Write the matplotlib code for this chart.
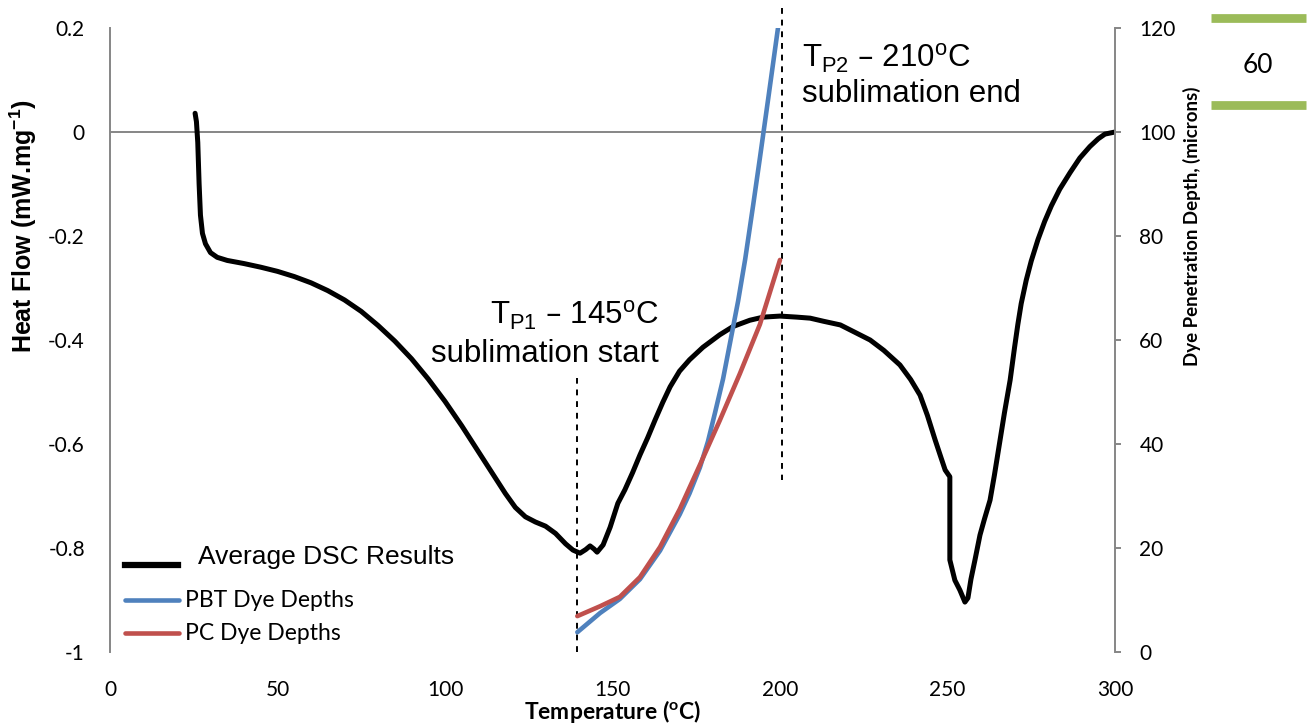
import matplotlib.pyplot as plt
from matplotlib.lines import Line2D

# DSC curve (temperature in C, heat flow in mW/mg)
dsc_temp = [25.4, 25.8, 26.2, 26.6, 27.0, 27.6, 28.5, 30.0, 32.0, 35.0, 40.0, 45.0,
            50.0, 55.0, 60.0, 65.0, 70.0, 75.0, 80.0, 85.0, 90.0, 95.0, 100.0, 105.0,
            110.0, 114.0, 118.0, 121.0, 124.0, 127.0, 130.0, 133.0, 136.0, 138.2,
            140.3, 142.0, 143.3, 144.5, 145.4, 147.2, 149.3, 151.6, 153.7, 156.0,
            158.2, 160.5, 162.7, 165.0, 167.2, 170.0, 173.0, 177.0, 182.0, 186.0,
            191.0, 195.0, 200.0, 205.0, 209.0, 213.0, 218.0, 222.0, 226.9, 231.0,
            235.8, 239.0, 241.8, 244.0, 246.3, 248.0, 249.3, 250.7, 250.7, 252.2,
            253.7, 255.2, 256.1, 257.0, 258.2, 259.7, 261.0, 262.7, 264.0, 265.7,
            267.0, 268.7, 270.0, 271.0, 272.0, 273.5, 275.0, 277.0, 279.0, 281.0,
            283.5, 286.6, 289.5, 292.5, 295.0, 297.0, 300.0]
dsc_flow = [0.036, 0.02, -0.02, -0.1, -0.16, -0.195, -0.215, -0.232, -0.241, -0.247,
            -0.253, -0.26, -0.268, -0.278, -0.29, -0.305, -0.323, -0.345, -0.372,
            -0.402, -0.436, -0.475, -0.518, -0.565, -0.615, -0.655, -0.695, -0.722,
            -0.74, -0.75, -0.758, -0.772, -0.792, -0.804, -0.81, -0.803, -0.796,
            -0.802, -0.808, -0.794, -0.76, -0.714, -0.688, -0.655, -0.621, -0.588,
            -0.554, -0.52, -0.49, -0.46, -0.438, -0.414, -0.39, -0.374, -0.362,
            -0.356, -0.354, -0.356, -0.358, -0.364, -0.371, -0.384, -0.4, -0.42,
            -0.448, -0.476, -0.506, -0.545, -0.592, -0.625, -0.65, -0.663, -0.823,
            -0.862, -0.881, -0.904, -0.896, -0.86, -0.823, -0.775, -0.745, -0.708,
            -0.66, -0.592, -0.54, -0.477, -0.415, -0.37, -0.33, -0.285, -0.248, -0.207,
            -0.172, -0.142, -0.11, -0.078, -0.05, -0.028, -0.013, -0.004, 0.0]

# dye penetration depths (microns)
pbt_temp = [139.5, 146.3, 152.2, 158.2, 164.2, 170.1, 173.0, 176.1, 178.5, 180.6, 183.0,
            185.1, 187.5, 189.6, 192.0, 194.0, 196.5, 199.4]
pbt_depth = [3.8, 7.5, 10.2, 14.0, 19.5, 26.5, 30.5, 35.5, 40.5, 46.0, 52.5,
             59.5, 67.5, 75.5, 86.0, 95.0, 106.5, 120.0]
pc_temp = [139.5, 146.3, 152.2, 158.2, 164.2, 170.1, 176.1, 182.0, 188.0, 194.0, 200.0]
pc_depth = [6.9, 8.8, 10.6, 14.4, 20.2, 27.5, 36.0, 44.5, 53.5, 63.0, 75.4]

# transition markers
tp1_x, tp1_y = [139.5, 139.5], [-1.0, -0.473]
tp2_x, tp2_y = [200.5, 200.5], [0.238, -0.669]

x_ticks = [0, 50, 100, 150, 200, 250, 300]
y_ticks = [0.2, 0, -0.2, -0.4, -0.6, -0.8, -1]
y_labels = ['0.2', '0', '-0.2', '-0.4', '-0.6', '-0.8', '-1']
y2_ticks = [0, 20, 40, 60, 80, 100, 120]

gray = '#868686'
blue = '#4F81BD'
red = '#C0504D'
green = '#9BBB59'
calibri = 'Lato'
arial = 'Liberation Sans'

fig = plt.figure(figsize=(13.13, 7.24), dpi=100)
ax = fig.add_axes([110 / 1313, 1 - 652 / 724, 1005 / 1313, 624 / 724])
ax2 = ax.twinx()

ax.set_xlim(0, 300)
ax.set_ylim(-1, 0.2)
ax2.set_ylim(0, 120)

# x axis line crosses at 0
ax.axhline(0, color=gray, lw=1.4, zorder=1)
ax.plot(dsc_temp, dsc_flow, color='black', lw=3.6, solid_capstyle='round',
        solid_joinstyle='round', zorder=3)
ax.plot(tp1_x, tp1_y, color='black', lw=1.4, dashes=(3, 3), zorder=2)
ax.plot(tp2_x, tp2_y, color='black', lw=1.4, dashes=(3, 3), zorder=2, clip_on=False)

ax2.plot(pbt_temp, pbt_depth, color=blue, lw=3.3, solid_capstyle='round',
         solid_joinstyle='round')
ax2.plot(pc_temp, pc_depth, color=red, lw=3.3, solid_capstyle='round',
         solid_joinstyle='round')

for s in ['top', 'bottom', 'right']:
    ax.spines[s].set_visible(False)
    ax2.spines[s].set_visible(False)
ax2.spines['left'].set_visible(False)
ax.spines['left'].set_color(gray)
ax.spines['left'].set_linewidth(1.4)
ax2.spines['right'].set_visible(True)
ax2.spines['right'].set_color(gray)
ax2.spines['right'].set_linewidth(1.4)

ax.set_xticks(x_ticks)
ax.set_yticks(y_ticks)
ax.set_yticklabels(y_labels)
ax2.set_yticks(y2_ticks)
ax.tick_params(axis='x', length=0, pad=20, labelsize=15)
ax.tick_params(axis='y', length=0, pad=18, labelsize=15)
ax2.tick_params(axis='y', length=4.5, width=1.4, color=gray, pad=13, labelsize=15)
for lab in ax.get_xticklabels() + ax.get_yticklabels() + ax2.get_yticklabels():
    lab.set_fontfamily(calibri)

ax.set_xlabel(r'Temperature ($\mathregular{^o}$C)', fontfamily=calibri,
              fontweight='bold', fontsize=16.5)
ax.xaxis.set_label_coords(0.5, -0.074)
ax.set_ylabel(r'Heat Flow (mW.mg$\mathregular{^{-1}}$)', fontfamily=arial,
              fontweight='bold', fontsize=18)
ax.yaxis.set_label_coords(-0.071, 0.683)
ax2.set_ylabel('Dye Penetration Depth, (microns)', fontfamily=calibri,
               fontweight='bold', fontsize=13.5)
ax2.yaxis.set_label_coords(1.068, 0.683)

# annotations
ax.text(163.9, -0.371, r'T$\mathregular{_{P1}}$ – 145$\mathregular{^o}$C',
        fontfamily=arial, fontsize=22.5, ha='right', va='baseline')
ax.text(163.9, -0.442, 'sublimation start', fontfamily=arial, fontsize=22.5,
        ha='right', va='baseline')
ax.text(206.6, 0.123, r'T$\mathregular{_{P2}}$ – 210$\mathregular{^o}$C',
        fontfamily=arial, fontsize=22.5, ha='left', va='baseline')
ax.text(206.6, 0.058, 'sublimation end', fontfamily=arial, fontsize=22.5,
        ha='left', va='baseline')

# legend drawn by hand to match layout
tr = ax.transAxes
ax.add_line(Line2D([0.015, 0.068], [0.139, 0.139], color='black', lw=4.5, transform=tr))
ax.text(0.088, 0.152, 'Average DSC Results', fontfamily=arial, fontsize=19,
        va='center', transform=tr)
ax.add_line(Line2D([0.015, 0.069], [0.083, 0.083], color=blue, lw=3.3,
                   solid_capstyle='round', transform=tr))
ax.text(0.075, 0.083, 'PBT Dye Depths', fontfamily=calibri, fontsize=16.5,
        va='center', transform=tr)
ax.add_line(Line2D([0.015, 0.069], [0.030, 0.030], color=red, lw=3.3,
                   solid_capstyle='round', transform=tr))
ax.text(0.075, 0.030, 'PC Dye Depths', fontfamily=calibri, fontsize=16.5,
        va='center', transform=tr)

# green "60" marker at top right
fig.add_artist(Line2D([0.9223, 0.9947], [0.9751, 0.9751], color=green, lw=6.3,
                      solid_capstyle='butt', transform=fig.transFigure))
fig.add_artist(Line2D([0.9223, 0.9947], [0.855, 0.855], color=green, lw=6.3,
                      solid_capstyle='butt', transform=fig.transFigure))
fig.text(0.958, 0.910, '60', fontfamily=calibri, fontsize=19, ha='center', va='center')

fig.savefig('out.png', dpi=100)
